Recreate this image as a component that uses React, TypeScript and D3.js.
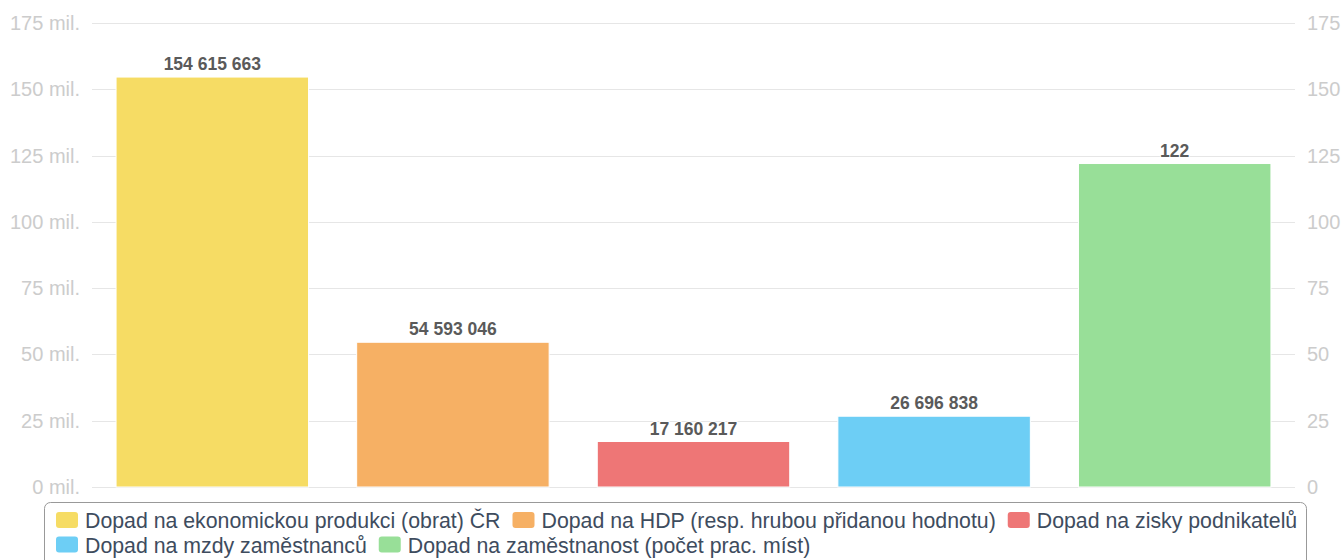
import React, { useEffect, useRef } from "react";
import * as d3 from "d3";

const categories = [
  "Dopad na ekonomickou produkci (obrat) ČR",
  "Dopad na HDP (resp. hrubou přidanou hodnotu)",
  "Dopad na zisky podnikatelů",
  "Dopad na mzdy zaměstnanců",
  "Dopad na zaměstnanost (počet prac. míst)",
];
const values = [154615663, 54593046, 17160217, 26696838, 122];
const valueAxis = ["left", "left", "left", "left", "right"];
const colors = ["#f6dc64", "#f6b064", "#ee7676", "#6dcef5", "#98df98"];
const leftTicks = [0, 25, 50, 75, 100, 125, 150, 175];
const rightTicks = [0, 25, 50, 75, 100, 125, 150, 175];

const W = 1344;
const H = 560;
const M = { left: 92, right: 49, top: 23, bottom: 73 };

export default function App() {
  const ref = useRef<SVGSVGElement | null>(null);

  useEffect(() => {
    const svg = d3.select(ref.current);
    svg.selectAll("*").remove();
    const font = "'Liberation Sans', Arial, sans-serif";

    const x = d3
      .scaleBand<string>()
      .domain(categories)
      .range([M.left, W - M.right])
      .paddingInner(0.2)
      .paddingOuter(0.1);
    const yL = d3.scaleLinear().domain([0, 175e6]).range([H - M.bottom, M.top]);
    const yR = d3.scaleLinear().domain([0, 175]).range([H - M.bottom, M.top]);

    // grid
    svg
      .append("g")
      .selectAll("line")
      .data(leftTicks)
      .join("line")
      .attr("x1", M.left)
      .attr("x2", W - M.right)
      .attr("y1", (d) => Math.round(yL(d * 1e6)) + 0.5)
      .attr("y2", (d) => Math.round(yL(d * 1e6)) + 0.5)
      .attr("stroke", "#e6e6e6")
      .attr("stroke-width", 1);

    // left axis labels
    svg
      .append("g")
      .selectAll("text")
      .data(leftTicks)
      .join("text")
      .attr("x", 80)
      .attr("y", (d) => yL(d * 1e6) + 7)
      .attr("text-anchor", "end")
      .attr("font-family", font)
      .attr("font-size", 20)
      .attr("fill", "#cccccc")
      .text((d) => `${d} mil.`);

    // right axis labels
    svg
      .append("g")
      .selectAll("text")
      .data(rightTicks)
      .join("text")
      .attr("x", 1307)
      .attr("y", (d) => yR(d) + 7)
      .attr("text-anchor", "start")
      .attr("font-family", font)
      .attr("font-size", 20)
      .attr("fill", "#cccccc")
      .text((d) => `${d}`);

    const yOf = (i: number) => (valueAxis[i] === "right" ? yR(values[i]) : yL(values[i]));

    // bars
    svg
      .append("g")
      .selectAll("rect")
      .data(categories)
      .join("rect")
      .attr("x", (d) => x(d)!)
      .attr("width", x.bandwidth())
      .attr("y", (_d, i) => yOf(i))
      .attr("height", (_d, i) => H - M.bottom - yOf(i))
      .attr("fill", (_d, i) => colors[i])
      .attr("stroke", "#ffffff")
      .attr("stroke-width", 1);

    const fmt = (v: number) => d3.format(",")(v).replace(/,/g, " ");

    // data labels
    svg
      .append("g")
      .selectAll("text")
      .data(categories)
      .join("text")
      .attr("x", (d) => x(d)! + x.bandwidth() / 2)
      .attr("y", (_d, i) => yOf(i) - 7)
      .attr("text-anchor", "middle")
      .attr("font-family", font)
      .attr("font-size", 17.5)
      .attr("font-weight", "bold")
      .attr("fill", "#5a5a5a")
      .attr("stroke", "#ffffff")
      .attr("stroke-width", 2)
      .attr("paint-order", "stroke")
      .text((_d, i) => fmt(values[i]));

    // legend
    const lg = svg.append("g");
    lg.append("rect")
      .attr("x", 44.5)
      .attr("y", 502.5)
      .attr("width", 1262)
      .attr("height", 80)
      .attr("rx", 6)
      .attr("fill", "#ffffff")
      .attr("stroke", "#999999")
      .attr("stroke-width", 1);

    const startX = 56;
    const maxX = 1306;
    const textOff = 29;
    const gap = 12;
    let cx = startX;
    let row = 0;
    categories.forEach((c, i) => {
      const g = lg.append("g");
      const t = g
        .append("text")
        .attr("font-family", font)
        .attr("font-size", 21.3)
        .attr("fill", "#3e4c5e")
        .text(c);
      const tw = (t.node() as SVGTextElement).getComputedTextLength();
      const itemW = textOff + tw;
      if (cx + itemW > maxX && cx > startX) {
        cx = startX;
        row += 1;
      }
      const baseY = 528 + row * 24.5;
      g.append("rect")
        .attr("x", cx)
        .attr("y", baseY - 16)
        .attr("width", 22)
        .attr("height", 16)
        .attr("rx", 3)
        .attr("fill", colors[i]);
      t.attr("x", cx + textOff).attr("y", baseY);
      cx += itemW + gap;
    });
  }, []);

  return (
    <svg
      ref={ref}
      width={W}
      height={H}
      style={{ position: "absolute", left: 0, top: 0, background: "#fff" }}
    />
  );
}
